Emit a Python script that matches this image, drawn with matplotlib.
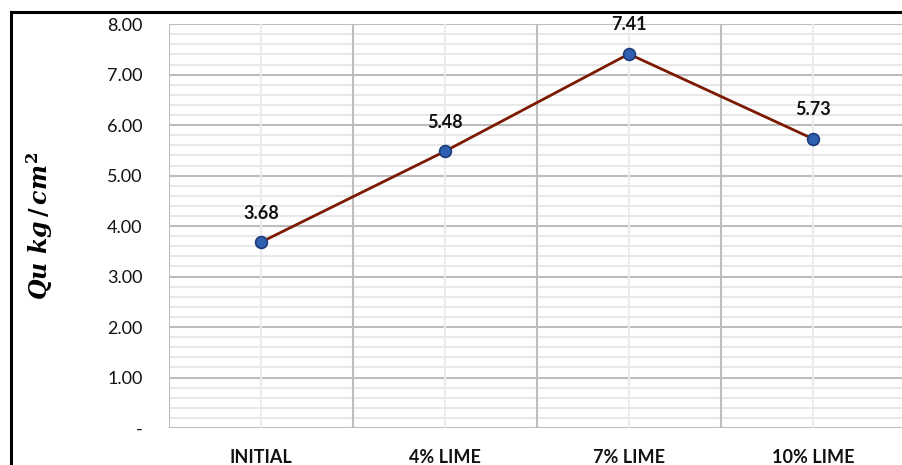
import numpy as np
import matplotlib
matplotlib.use("Agg")
import matplotlib.pyplot as plt
from matplotlib.lines import Line2D
from matplotlib.ticker import MultipleLocator, FixedLocator

categories = ["INITIAL", "4% LIME", "7% LIME", "10% LIME"]
qu_values = [3.68, 5.48, 7.41, 5.73]
y_ticks = [0, 1, 2, 3, 4, 5, 6, 7, 8]
y_tick_labels = ["-", "1.00", "2.00", "3.00", "4.00", "5.00", "6.00", "7.00", "8.00"]

plt.rcParams['font.family'] = ['Lato', 'DejaVu Sans']
plt.rcParams['mathtext.fontset'] = 'custom'
plt.rcParams['mathtext.it'] = 'DejaVu Serif:italic:bold'
plt.rcParams['mathtext.rm'] = 'DejaVu Serif:bold'

fig = plt.figure(figsize=(9.03, 4.65), dpi=100)
ax = fig.add_axes([0.187, 0.0796, 0.815, 0.8684])

x = np.arange(len(categories))
ax.plot(x, qu_values, color="#7B1A00", lw=2.0, marker="o", ms=8.5,
        markerfacecolor="#2F5FB0", markeredgecolor="#1C3C7A", markeredgewidth=1.2, zorder=5)

for xi, v in zip(x, qu_values):
    ax.annotate(f"{v:.2f}", (xi, v), xytext=(0, 21), textcoords="offset points",
                ha="center", va="center", fontsize=13, fontweight="bold", color="#111111")

ax.set_xlim(-0.5, len(categories) - 0.5)
ax.set_ylim(0, 8)

ax.set_xticks(x)
ax.set_xticklabels(categories, fontsize=13, fontweight="bold", color="#111111")
ax.xaxis.set_minor_locator(FixedLocator(np.arange(-0.5, len(categories), 1.0)))
ax.set_yticks(y_ticks)
ax.set_yticklabels(y_tick_labels, fontsize=13, color="#111111")
ax.yaxis.set_minor_locator(MultipleLocator(0.2))

ax.tick_params(axis="both", which="both", length=0)
ax.tick_params(axis="y", pad=19)
ax.tick_params(axis="x", pad=15)

ax.grid(axis="x", which="major", color="#EBEBEB", lw=1.5)
ax.grid(axis="x", which="minor", color="#BDBDBD", lw=1.5)
ax.grid(axis="y", which="minor", color="#E8E8E8", lw=1.5)
ax.grid(axis="y", which="major", color="#BDBDBD", lw=1.5)
ax.set_axisbelow(True)
# vertical grid lines sit over the horizontal ones
ax.yaxis.set_zorder(0.5)
ax.xaxis.set_zorder(0.6)
for s in ax.spines.values():
    s.set_visible(False)

ax.set_ylabel(r"$Qu\ kg\,/\,cm^2$", fontsize=17)
ax.yaxis.set_label_coords(-0.155, 0.5)

# frame lines on the left and top of the figure
fig.add_artist(Line2D([11 / 903, 11 / 903], [0, 1 - 12 / 465], color="black", lw=2.2,
                      transform=fig.transFigure))
fig.add_artist(Line2D([11 / 903, 1], [1 - 12 / 465, 1 - 12 / 465], color="black", lw=2.2,
                      transform=fig.transFigure))

fig.savefig("out.png", dpi=100)
